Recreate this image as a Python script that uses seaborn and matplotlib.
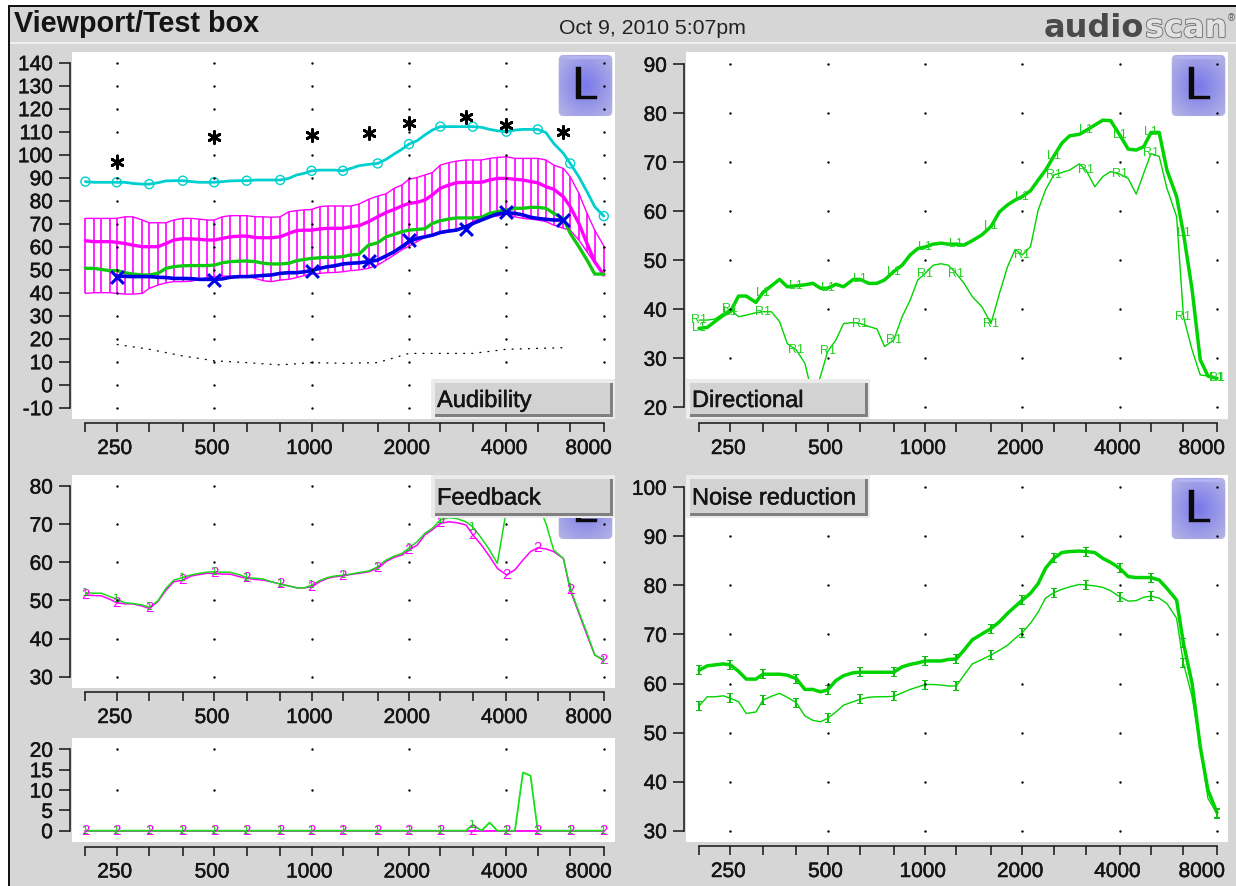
import numpy as np
import seaborn as sns
import matplotlib
matplotlib.use("Agg")
from matplotlib import pyplot as plt
from matplotlib import patheffects
from matplotlib.patches import FancyBboxPatch, Rectangle
from matplotlib.ticker import NullLocator
from matplotlib.transforms import ScaledTranslation

# 1/12 octave frequencies, all curves are read at these
FREQS = [200, 212, 224, 238, 250, 265, 280, 300, 315, 335, 355, 375, 400, 425, 450, 475,
         500, 530, 560, 600, 630, 670, 710, 750, 800, 850, 900, 950, 1000, 1060, 1120, 1180,
         1250, 1320, 1400, 1500, 1600, 1700, 1800, 1900, 2000, 2120, 2240, 2360, 2500, 2650,
         2800, 3000, 3150, 3350, 3550, 3750, 4000, 4250, 4500, 4750, 5000, 5300, 5600, 6000,
         6300, 6700, 7100, 7500, 8000]
THIRD_OCT = FREQS[::4]
TICK_TEXT = ["", "250", "", "", "500", "", "", "1000", "", "", "2000", "", "", "4000", "", "", "8000"]
DOT_FREQS = [250, 500, 1000, 2000, 4000, 8000]

# Audibility
CYAN_DB = [88.3, 88, 88, 88, 88, 88, 87.5, 87.2, 87.2, 87.8, 88.6, 88.7, 88.7, 88.3, 88, 88,
           88, 88.3, 88.6, 88.7, 88.7, 89, 89, 89, 89, 89.7, 91.2, 91.9, 93, 93.3, 93.3, 93.3,
           93, 94, 95.2, 95.8, 96.2, 98, 100.3, 102.3, 104.6, 106.1, 108.6, 110.7, 112.2, 112.2,
           112.2, 112.2, 112.2, 111.9, 111, 110.4, 110, 110.7, 111, 111, 111, 109.6, 104.9, 100.6,
           96.2, 90.4, 83.9, 77.4, 73.3]
BAND_HI = [72.3, 72.3, 72.3, 72.3, 72.3, 73, 73, 71.6, 70.4, 70.4, 70.4, 71.6, 72.3, 72.3, 72, 71.6,
           71.6, 73, 73.5, 73.5, 73.5, 73, 73, 72.8, 73, 75.2, 75.7, 76, 76.2, 77.4, 77.7, 77.7,
           77.7, 77.7, 78.5, 80.6, 82, 83, 85.4, 86.8, 89.3, 90.1, 91.2, 92.2, 95.5, 96.5, 97.2,
           97.7, 97.7, 97.7, 98.4, 98.8, 99.1, 98.4, 98.4, 98.4, 98.4, 97.7, 95.5, 94, 90.4, 83.2,
           74.5, 67.2, 60.3]
BAND_LO = [39.7, 40, 40, 40, 39.7, 39.4, 39.4, 39.7, 41.9, 43.3, 44.3, 44.8, 44.8, 45, 45.8, 46.6,
           47, 47.2, 47.2, 47.2, 47.2, 46.2, 45.2, 44.8, 45.5, 45.8, 46.6, 47.5, 48.1, 48.4, 48.7,
           48.8, 49.1, 49.6, 49.9, 50.6, 52, 54.2, 56.4, 58.6, 60.3, 62.2, 64.1, 64.6, 65.8, 66.5,
           67.2, 69, 70.9, 72.8, 73.3, 73.3, 74.5, 73, 72.3, 72, 71.6, 70.9, 69.4, 68, 67.2, 62.9,
           57.8, 52.8, 47.7]
MEAN_DB = [62.6, 62.2, 62.2, 62.2, 61.9, 61.4, 60.7, 60, 60, 60, 61.4, 62.9, 63.5, 63.4, 63.2, 62.9,
           62.9, 63.6, 64.3, 64.6, 64.6, 64, 63.9, 63.9, 64.3, 65.8, 67, 67.2, 67.2, 67.7, 68, 68,
           68, 68.7, 69.1, 70.9, 73, 74.9, 76.2, 77.7, 78.8, 79.3, 80.3, 82.5, 85.4, 86.8, 87.8,
           88, 88, 88, 89, 89.7, 89.7, 89.3, 89, 88.3, 87.8, 86.1, 85, 81.7, 77.4, 70.1, 61.4,
           53.5, 47.7]
SPEECH_DB = [50.6, 50.6, 50.1, 49.6, 49.6, 48.7, 48.1, 47.7, 47.7, 48.4, 50.6, 51.3, 51.7, 51.8, 51.8,
             51.8, 52, 53, 53.5, 53.7, 53.8, 53.5, 52.8, 52.5, 52.5, 52.8, 53.9, 54.5, 54.9, 55.2,
             55.4, 55.4, 55.7, 56.4, 56.7, 60.7, 61.7, 64.3, 65.4, 66.5, 67.2, 67.5, 67.8, 70.1,
             71.3, 72, 72.5, 72.5, 72.5, 72.8, 74.5, 75.2, 76, 76.7, 76.7, 77.1, 77.1, 76.7, 74.5,
             72.3, 65.8, 60, 54.2, 48.1, 48.1]
# blue runs from 250 Hz to 6000 Hz only
AIDED_DB = [47.2, 47.1, 47, 47, 47, 46.7, 46.6, 46.2, 46.2, 46.1, 45.8, 45.8, 45.8, 46, 46.7, 47, 47,
            47.2, 47.5, 47.7, 48.4, 48.7, 48.7, 49.1, 49.6, 50.6, 51.3, 51.7, 52.5, 52.8, 53, 53.5,
            54.2, 56, 57.8, 60, 62.2, 63.6, 64.3, 65, 66.2, 66.8, 67.2, 68.7, 70.1, 71.6, 73, 74.2,
            74.8, 74.5, 73.8, 72.8, 72.3, 71.9, 71.6, 71.6]
THRESH_FREQS = [250, 315, 400, 500, 630, 800, 1000, 1250, 1600, 2000, 3150, 4000, 6000]
THRESH_DB = [17.5, 15.4, 12.5, 10.4, 9.6, 8.6, 9.6, 9.3, 9.6, 13.6, 13.6, 15.4, 16.1]
AUDIO_FREQS = [250, 500, 1000, 1500, 2000, 3000, 4000, 6000]
UCL_DB = [97, 107.5, 108.5, 109.5, 114, 116.5, 113, 110]
AIDED_STARS_DB = [47, 45.5, 49.5, 54, 63, 67.5, 75, 71.5]

# Directional
DIR_L1 = [36.1, 36.3, 37.5, 38.8, 39.5, 42.7, 42.7, 41.4, 43.4, 44.8, 46.1, 44.6, 44.8, 45, 45.3, 44.3,
          44.3, 45.1, 44.6, 46.1, 46.1, 45.3, 45.3, 46, 47.7, 49, 51.1, 52.4, 52.7, 53.3, 53.5, 53.3,
          53.3, 53.1, 54, 55.2, 56.9, 59.9, 61.3, 62.3, 63, 64.2, 66.4, 68.4, 71.2, 73.9, 75.4, 75.7,
          76.5, 77.6, 78.6, 78.5, 75.6, 72.7, 72.5, 73.2, 76.1, 76.1, 68.4, 63, 55.5, 44, 29.7, 26.4, 25.9]
DIR_R1 = [37.8, 37.8, 38, 39.2, 40, 38.5, 38.8, 39.3, 39.5, 39.5, 37.5, 33, 31.7, 29, 22.2, 26.3,
          31.4, 33.7, 37.1, 37.3, 37.1, 36.5, 36, 32.4, 33.7, 38.5, 41.9, 46, 47.3, 49, 49.3, 49,
          47.3, 45.3, 42.6, 40.5, 37.1, 43.3, 48.7, 52.2, 51.1, 52.8, 60.3, 64.4, 67.4, 67.9, 68.4,
          69.7, 68.4, 65, 67.1, 68.1, 67.6, 66.7, 63.5, 67.8, 71.8, 71.2, 64.7, 58.9, 38.5, 31.7,
          26.6, 26.4, 25.9]

# Feedback
FB_2 = [51.4, 51.3, 51.2, 50.3, 49.4, 49.1, 49.1, 48.5, 47.9, 49.7, 52.7, 54.9, 55.3, 56.4, 56.8, 57.1,
        57.1, 56.9, 56.9, 56.2, 55.8, 55.5, 55.3, 54.9, 54.3, 53.8, 53.3, 53.3, 53.6, 54.9, 55.8, 56.2,
        56.4, 56.8, 57.1, 57.5, 58.4, 60.2, 61.3, 61.9, 63.2, 64.5, 67.2, 68.5, 70.2, 70.6, 70.4, 69.8,
        67.2, 64.5, 61.5, 58.4, 56.7, 58, 60.6, 62.8, 63.8, 63.5, 62.8, 61, 52.7, 46.6, 40.9, 35.7, 34.4]
FB_1 = [52, 51.9, 51.9, 51, 50.3, 49.4, 49.2, 48.8, 48.2, 49.9, 53.2, 55.3, 56, 56.7, 57.1, 57.4,
        57.5, 57.4, 57.4, 56.7, 56, 55.8, 55.6, 54.9, 54.3, 53.8, 53.3, 53.3, 54, 55.2, 56, 56.4,
        56.6, 56.9, 57.3, 57.7, 58.8, 60.6, 61.6, 62.3, 63.7, 65.4, 67.6, 68.9, 71.1, 71.7, 71.5, 70.6,
        69.3, 66.3, 63.2, 59.7, 73.7, 75.5, 76.3, 76.3, 75.5, 70.2, 63.2, 61, 53.2, 47, 41.4, 35.7, 34.2]
DIFF_2 = [0] * 65
DIFF_1 = [0, 0, 0, 0, 0, 0, 0, 0, 0, 0, 0, 0, 0, 0, 0, 0,
          0, 0, 0, 0, 0, 0, 0, 0, 0, 0, 0, 0, 0, 0, 0, 0,
          0, 0, 0, 0, 0, 0, 0, 0, 0, 0, 0, 0, 0, 0, 0, 0,
          1.5, 0, 2, 0, 0, 0, 14.3, 13.5, 0, 0, 0, 0, 0, 0, 0, 0, 0]

# Noise reduction
NR_THICK = [62.7, 63.6, 63.8, 64, 63.8, 62.5, 60.9, 60.9, 61.9, 61.9, 61.9, 61.7, 61, 58.8, 58.8, 58.3,
            58.7, 60.6, 61.6, 62.2, 62.3, 62.3, 62.3, 62.3, 62.3, 63.4, 63.9, 64.2, 64.6, 64.6, 64.6, 64.9,
            65, 66.8, 68.9, 70.1, 71.2, 72.6, 74.3, 75.7, 77, 78.4, 80.4, 83.5, 85.5, 86.7, 86.9, 87, 86.9,
            86.7, 85.5, 84.7, 83.5, 81.8, 81.6, 81.6, 81.6, 81.1, 79.4, 77, 68.2, 60, 47.1, 38.3, 33.7]
NR_THIN = [55.4, 57.3, 57.3, 57.5, 57, 56.3, 53.9, 54.2, 56.6, 57.4, 58, 57.2, 56.1, 53.4, 52.5, 52.2,
           52.9, 54.2, 55.6, 56.3, 56.8, 57.2, 57.3, 57.3, 57.4, 58.1, 58.8, 59.3, 59.8, 59.8, 59.7, 59.5,
           59.5, 61.7, 64, 64.9, 65.8, 66.8, 67.8, 69.2, 70.4, 72.3, 74.6, 77.4, 78.5, 79.2, 79.7, 80.2,
           80.1, 79.9, 79.6, 78.9, 77.7, 76.8, 76.9, 77.6, 77.8, 77.4, 76.3, 73.3, 64.1, 57.3, 47.1, 36.6, 33.5]

GRAY = "#d6d6d6"
INK = "#141414"
GREEN = "#00d400"
MAGENTA = "#ff00ff"
CYAN = "#00cfcf"
BLUE = "#0000e6"
W, H = 1236, 886
PX = 0.72  # points per pixel at dpi 100
HEAVY = [patheffects.withStroke(linewidth=0.35, foreground=INK)]


def fx(x):
    return x / W


def fy(y):
    return 1 - y / H


def add_panel(fig, white, x200, x8000, y_ticks, y_first_px, y_last_px, axis_gap, dot_y=None):
    x0, y0, x1, y1 = white
    ax = fig.add_axes([fx(x0), fy(y1), (x1 - x0) / W, (y1 - y0) / H], facecolor="white")
    ax.set_xscale("log")
    per_px = np.log2(8000 / 200) / (x8000 - x200)
    ax.set_xlim(200 * 2 ** ((x0 - x200) * per_px), 8000 * 2 ** ((x1 - x8000) * per_px))
    db_px = (y_ticks[0] - y_ticks[-1]) / (y_last_px - y_first_px)
    ax.set_ylim(y_ticks[-1] - (y1 - y_last_px) * db_px, y_ticks[0] + (y_first_px - y0) * db_px)

    ax.set_xticks(THIRD_OCT, TICK_TEXT)
    ax.xaxis.set_minor_locator(NullLocator())
    ax.set_yticks(y_ticks, [str(v) for v in y_ticks])
    ax.tick_params(axis="x", bottom=True, length=9 * PX, width=1.1, color=INK, pad=7 * PX, labelsize=15, labelcolor=INK)
    ax.tick_params(axis="y", left=True, length=11 * PX, width=1.1, color=INK, pad=6 * PX, labelsize=15, labelcolor=INK)
    for sp in ("top", "right"):
        ax.spines[sp].set_visible(False)
    ax.spines["left"].set_position(("outward", 2 * PX))
    ax.spines["left"].set_bounds(y_ticks[-1], y_ticks[0])
    ax.spines["bottom"].set_position(("outward", axis_gap * PX))
    ax.spines["bottom"].set_bounds(200, 8000)
    for sp in ("left", "bottom"):
        ax.spines[sp].set_color(INK)
        ax.spines[sp].set_linewidth(1.1)

    # 8000 sits left of its tick so it stays inside the frame
    for lab, txt in zip(ax.get_xticklabels(), TICK_TEXT):
        shift = -15 if txt == "8000" else -2
        lab.set_transform(lab.get_transform() + ScaledTranslation(shift / 100, 0, fig.dpi_scale_trans))
        lab.set_path_effects(HEAVY)
    for lab in ax.get_yticklabels():
        lab.set_path_effects(HEAVY)

    dots = dot_y if dot_y is not None else y_ticks
    gx, gy = np.meshgrid(DOT_FREQS, dots)
    sns.scatterplot(x=gx.ravel(), y=gy.ravel(), ax=ax, color="black", s=3, linewidth=0, zorder=6)
    return ax


def add_l_badge(ax, white, top_px):
    x0, y0, x1, y1 = white
    bw, bh = x1 - x0, y1 - y0
    lx, rx = (x1 - 58 - x0) / bw, (x1 - 1 - x0) / bw
    ty, by = 1 - (top_px - y0) / bh, 1 - (top_px + 65 - y0) / bh
    ins = ax.inset_axes([lx, by, rx - lx, ty - by], zorder=5)
    ins.set_axis_off()
    yy, xx = np.mgrid[-1:1:60j, -1:1:60j]
    rr = np.clip(np.hypot(xx, yy), 0, 1.3) / 1.3
    img = np.zeros((60, 60, 3))
    img[..., 0] = 0.47 + 0.24 * rr
    img[..., 1] = 0.47 + 0.24 * rr
    img[..., 2] = 0.92 - 0.02 * rr
    im = ins.imshow(img, extent=(0, 1, 0, 1), aspect="auto")
    clip = FancyBboxPatch((0.03, 0.03), 0.94, 0.94, boxstyle="round,pad=0,rounding_size=0.08",
                          transform=ins.transAxes, fc="none", ec="none")
    ins.add_patch(clip)
    im.set_clip_path(clip)
    ins.plot([0.12, 0.88], [0.94, 0.94], color="#b4b4f2", lw=2, transform=ins.transAxes)
    ins.set_xlim(0, 1)
    ins.set_ylim(0, 1)
    ins.text(0.5, 0.47, "L", ha="center", va="center", fontsize=34, color="#0a0a0a", transform=ins.transAxes,
             path_effects=[patheffects.withStroke(linewidth=0.3, foreground="#0a0a0a")])


def add_button(fig, x0, y0, x1, y1, label):
    fig.add_artist(Rectangle((fx(x0), fy(y1)), (x1 - x0) / W, (y1 - y0) / H, transform=fig.transFigure,
                             fc="#ebebeb", ec="none", zorder=10))
    fig.add_artist(Rectangle((fx(x0 + 4), fy(y1 - 2)), (x1 - x0 - 6) / W, (y1 - y0 - 6) / H,
                             transform=fig.transFigure, fc="#808080", ec="none", zorder=11))
    fig.add_artist(Rectangle((fx(x0 + 4), fy(y1 - 5)), (x1 - x0 - 9) / W, (y1 - y0 - 9) / H,
                             transform=fig.transFigure, fc="#d2d2d2", ec="none", zorder=12))
    fig.text(fx(x0 + 6), fy((y0 + y1) / 2 + 2), label, fontsize=17, color=INK, va="center", ha="left", zorder=13,
             path_effects=HEAVY)


def line(ax, x, y, color, lw, zorder=3, **kws):
    sns.lineplot(x=x, y=y, ax=ax, color=color, linewidth=lw, estimator=None, sort=False,
                 legend=False, zorder=zorder, **kws)


def tags(ax, values, text, color, size=9, family="Liberation Sans"):
    for f, v in zip(THIRD_OCT, values[::4]):
        ax.text(f, v, text, color=color, fontsize=size, ha="center", va="center", zorder=4, family=family)


sns.set_theme(style="white")
plt.rcParams["font.family"] = ["Liberation Sans", "DejaVu Sans"]

fig = plt.figure(figsize=(W / 100, H / 100), dpi=100, facecolor="white")
fig.add_artist(Rectangle((fx(8), 0), 1 - fx(8), fy(5), transform=fig.transFigure, fc=INK, ec="none", zorder=-3))
fig.add_artist(Rectangle((fx(10), 0), 1 - fx(10), fy(7), transform=fig.transFigure, fc=GRAY, ec="none", zorder=-2))
fig.add_artist(Rectangle((fx(10), fy(44)), 1 - fx(10), 2 / H, transform=fig.transFigure, fc="#f0f0f0", ec="none", zorder=-1))

# header
fig.text(fx(14), fy(24), "Viewport/Test box", fontsize=20.7, fontweight="bold", color=INK, va="center")
fig.text(fx(652), fy(29), "Oct 9, 2010 5:07pm", fontsize=15.3, color="#222222", va="center", ha="center")
fig.text(fx(1044), fy(37), "audio", fontsize=23, fontweight="bold", family="DejaVu Sans", color="#4a4a4a", va="baseline")
fig.text(fx(1145), fy(37), "scan", fontsize=23, fontweight="bold", family="DejaVu Sans", color="#e2e2e2", va="baseline",
         path_effects=[patheffects.withStroke(linewidth=1.2, foreground="#6a6a6a")])
fig.text(fx(1228), fy(21), "®", fontsize=7, color="#555555", va="baseline")

# top left, Audibility
white = (72, 52, 615, 419)
ax = add_panel(fig, white, 85.4, 603.8, list(range(140, -11, -10)), 62.7, 407.7, 4)
add_l_badge(ax, white, 53)
ax.vlines(FREQS, BAND_LO, BAND_HI, color=MAGENTA, lw=1.2, zorder=2)
line(ax, FREQS, BAND_HI, MAGENTA, 1.0)
line(ax, FREQS, BAND_LO, MAGENTA, 1.0)
line(ax, THRESH_FREQS, THRESH_DB, "black", 0.9, linestyle=(0, (1.5, 5)))
line(ax, FREQS, MEAN_DB, MAGENTA, 2.4)
line(ax, FREQS, SPEECH_DB, "#10c810", 2.4)
line(ax, FREQS[4:60], AIDED_DB, BLUE, 2.6)
line(ax, FREQS, CYAN_DB, CYAN, 2.0)
sns.scatterplot(x=THIRD_OCT, y=CYAN_DB[::4], ax=ax, marker="o", s=42, facecolors="none", edgecolor=CYAN, linewidth=1, zorder=4)
sns.scatterplot(x=AUDIO_FREQS, y=UCL_DB, ax=ax, marker=(6, 2, 0), s=75, color="black", edgecolor="black", linewidth=2, zorder=4)
sns.scatterplot(x=AUDIO_FREQS, y=AIDED_STARS_DB, ax=ax, marker="x", s=85, color=BLUE, linewidth=2.2, zorder=4)
add_button(fig, 431, 379, 615, 419, "Audibility")

# top right, Directional
white = (686, 52, 1228, 419)
ax = add_panel(fig, white, 699, 1217, list(range(90, 19, -10)), 64.3, 407.3, 4)
add_l_badge(ax, white, 53)
line(ax, FREQS, DIR_R1, GREEN, 1.0)
line(ax, FREQS, DIR_L1, GREEN, 2.5)
tags(ax, DIR_R1, "R1", "#20d020")
tags(ax, DIR_L1, "L1", "#20d020")
add_button(fig, 686, 379, 870, 419, "Directional")

# middle left, Feedback
white = (72, 475, 615, 688)
ax = add_panel(fig, white, 85.4, 603.8, list(range(80, 29, -10)), 486, 676.7, 4)
add_l_badge(ax, white, 476)
line(ax, FREQS, FB_2, MAGENTA, 1.1)
line(ax, FREQS, FB_1, "#18dc18", 1.1)
tags(ax, FB_2, "2", MAGENTA, 11)
tags(ax, FB_1, "1", "#18c818", 8, "DejaVu Sans")
add_button(fig, 431, 475, 615, 518, "Feedback")

# bottom left, difference
white = (72, 738, 615, 842)
ax = add_panel(fig, white, 85.4, 603.8, [20, 15, 10, 5, 0], 749.3, 830.7, 4.5, dot_y=[20, 10])
line(ax, FREQS, DIFF_2, MAGENTA, 1.3)
line(ax, FREQS, DIFF_1, "#18e018", 1.3)
tags(ax, DIFF_2, "2", MAGENTA, 11)
tags(ax, DIFF_1, "1", "#18c818", 8, "DejaVu Sans")

# bottom right, Noise reduction
white = (686, 475, 1228, 842)
ax = add_panel(fig, white, 699, 1217, list(range(100, 29, -10)), 487.3, 830.7, 4)
add_l_badge(ax, white, 476)
line(ax, FREQS, NR_THIN, GREEN, 1.0)
line(ax, FREQS, NR_THICK, GREEN, 2.5)
for vals in (NR_THIN, NR_THICK):
    sns.scatterplot(x=THIRD_OCT, y=vals[::4], ax=ax, marker="$\\mathtt{I}$", s=50, color="#10c010", linewidth=0, zorder=4)
add_button(fig, 686, 475, 870, 518, "Noise reduction")

fig.savefig("out.png", dpi=100, facecolor=fig.get_facecolor())
